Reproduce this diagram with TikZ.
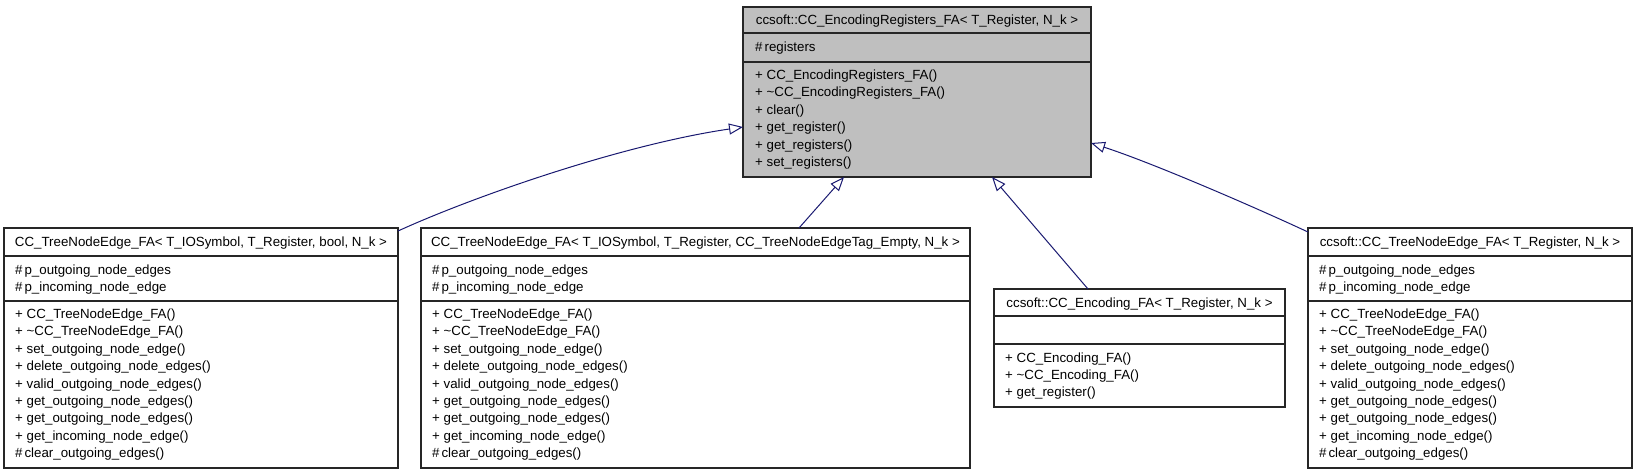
\documentclass[tikz,border=0pt]{standalone}
\usepackage{fontspec}
\setmainfont{Liberation Sans}
\usetikzlibrary{arrows.meta,calc}
\definecolor{edgeblue}{HTML}{191970}
\definecolor{boxgray}{HTML}{BFBFBF}
\newcommand\hs{\#\kern0.15em}
\newcommand\memberlines[4]{%
  \foreach \t [count=\i] in {#4}
    \node[member] (#1-\i) at ({#2},{#3+17.4*(\i-1)}) {\t};}
\tikzset{
  box/.style={draw=black!85, line width=1.1pt, inner sep=0pt, outer sep=0pt, rectangle},
  sepline/.style={draw=black!85, line width=1.1pt},
  titletext/.style={inner sep=0pt, font=\fontsize{13.3}{16}\selectfont, anchor=base},
  member/.style={inner sep=0pt, font=\fontsize{13.3}{16}\selectfont, anchor=base west},
  inherit/.style={draw=edgeblue, line width=1pt, -{Triangle[open, length=14pt, width=11pt]}},
}
\begin{document}
\begin{tikzpicture}[x=1pt,y=-1pt]
\useasboundingbox (0,0) rectangle (1637,475);

% ---- top class A
\node[box, fill=boxgray, minimum width=348pt, minimum height=170pt] (A) at (917,92) {};
\draw[sepline] (743,33) -- (1091,33);
\draw[sepline] (743,62) -- (1091,62);
\node[titletext] (A-t) at (917,24.5) {ccsoft::CC\_EncodingRegisters\_FA< T\_Register, N\_k >};
\node[member] (A-a1) at (755,51.5) {\hs registers};
\memberlines{A-m}{755}{79.5}{+ CC\_EncodingRegisters\_FA(),+ \textasciitilde CC\_EncodingRegisters\_FA(),+ clear(),+ get\_register(),+ get\_registers(),+ set\_registers()}

% ---- class B
\node[box, minimum width=394pt, minimum height=240pt] (B) at (201,348) {};
\draw[sepline] (4,256) -- (398,256);
\draw[sepline] (4,301) -- (398,301);
\node[titletext] (B-t) at (201,246.5) {CC\_TreeNodeEdge\_FA< T\_IOSymbol, T\_Register, bool, N\_k >};
\memberlines{B-a}{15}{274.5}{\hs p\_outgoing\_node\_edges,\hs p\_incoming\_node\_edge}
\memberlines{B-m}{15}{318.5}{+ CC\_TreeNodeEdge\_FA(),+ \textasciitilde CC\_TreeNodeEdge\_FA(),+ set\_outgoing\_node\_edge(),+ delete\_outgoing\_node\_edges(),+ valid\_outgoing\_node\_edges(),+ get\_outgoing\_node\_edges(),+ get\_outgoing\_node\_edges(),+ get\_incoming\_node\_edge(),\hs clear\_outgoing\_edges()}

% ---- class C
\node[box, minimum width=549pt, minimum height=240pt] (C) at (695.5,348) {};
\draw[sepline] (421,256) -- (970,256);
\draw[sepline] (421,301) -- (970,301);
\node[titletext] (C-t) at (695.5,246.5) {CC\_TreeNodeEdge\_FA< T\_IOSymbol, T\_Register, CC\_TreeNodeEdgeTag\_Empty, N\_k >};
\memberlines{C-a}{432}{274.5}{\hs p\_outgoing\_node\_edges,\hs p\_incoming\_node\_edge}
\memberlines{C-m}{432}{318.5}{+ CC\_TreeNodeEdge\_FA(),+ \textasciitilde CC\_TreeNodeEdge\_FA(),+ set\_outgoing\_node\_edge(),+ delete\_outgoing\_node\_edges(),+ valid\_outgoing\_node\_edges(),+ get\_outgoing\_node\_edges(),+ get\_outgoing\_node\_edges(),+ get\_incoming\_node\_edge(),\hs clear\_outgoing\_edges()}

% ---- class D
\node[box, minimum width=291pt, minimum height=118pt] (D) at (1139.5,348) {};
\draw[sepline] (994,316) -- (1285,316);
\draw[sepline] (994,344) -- (1285,344);
\node[titletext] (D-t) at (1139.5,307) {ccsoft::CC\_Encoding\_FA< T\_Register, N\_k >};
\memberlines{D-m}{1005}{362}{+ CC\_Encoding\_FA(),+ \textasciitilde CC\_Encoding\_FA(),+ get\_register()}

% ---- class E
\node[box, minimum width=324pt, minimum height=240pt] (E) at (1470,348) {};
\draw[sepline] (1308,256) -- (1632,256);
\draw[sepline] (1308,301) -- (1632,301);
\node[titletext] (E-t) at (1470,246.5) {ccsoft::CC\_TreeNodeEdge\_FA< T\_Register, N\_k >};
\memberlines{E-a}{1319}{274.5}{\hs p\_outgoing\_node\_edges,\hs p\_incoming\_node\_edge}
\memberlines{E-m}{1319}{318.5}{+ CC\_TreeNodeEdge\_FA(),+ \textasciitilde CC\_TreeNodeEdge\_FA(),+ set\_outgoing\_node\_edge(),+ delete\_outgoing\_node\_edges(),+ valid\_outgoing\_node\_edges(),+ get\_outgoing\_node\_edges(),+ get\_outgoing\_node\_edges(),+ get\_incoming\_node\_edge(),\hs clear\_outgoing\_edges()}

% ---- inheritance connectors
\draw[inherit] ([yshift=-3pt]B.north east) .. controls ($(B.north east)+(72,-30)$) and ($(A.west)+(-123,53)$) .. ([yshift=-35pt]A.west);
\draw[inherit] ([xshift=103.5pt]C.north) -- ([xshift=-73pt]A.south);
\draw[inherit] ([xshift=-51.5pt]D.north) -- ([xshift=75pt]A.south);
\draw[inherit] ([yshift=-4pt]E.north west) .. controls ($(E.north west)+(-58,-23)$) and ($(A.east)+(59,70)$) .. ([yshift=-51pt]A.east);
\end{tikzpicture}
\end{document}
